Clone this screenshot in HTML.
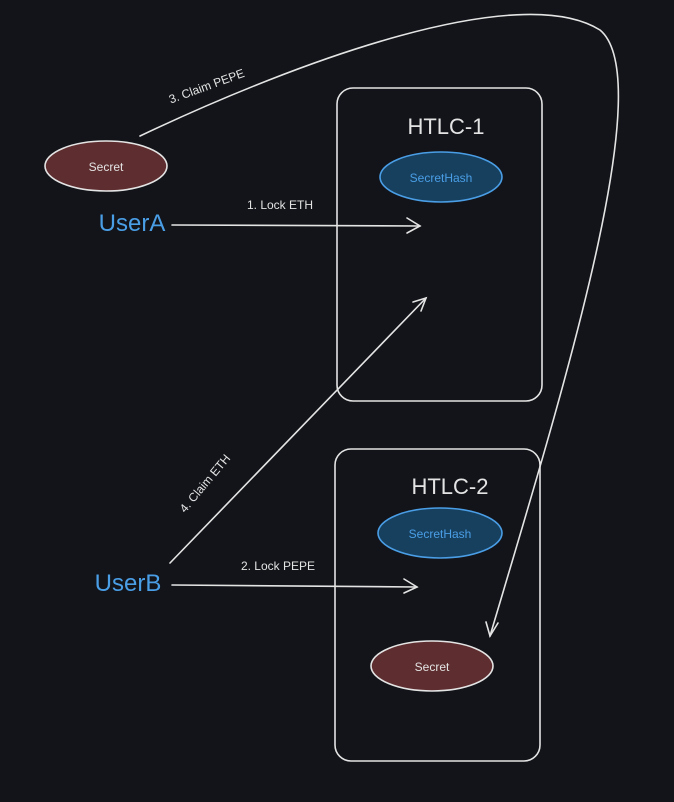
<!DOCTYPE html>
<html><head><style>
html,body{margin:0;padding:0;background:#121419;}
svg{display:block}
text{font-family:"Liberation Sans",sans-serif;}
</style></head><body>
<svg width="674" height="802" viewBox="0 0 674 802" xmlns="http://www.w3.org/2000/svg">
<rect width="674" height="802" fill="#121419"/>
<g fill="none" stroke="#e4e4e4" stroke-width="1.6" stroke-linecap="round">
<rect x="337" y="88" width="205" height="313" rx="16"/>
<rect x="335" y="449" width="205" height="312" rx="16"/>
<path d="M172 225 L420 226"/>
<path d="M407 218 L420 226 L407 233"/>
<path d="M172 585 L417 587"/>
<path d="M404 579 L417 587 L404 593"/>
<path d="M170 563 L426 298"/>
<path d="M413 302 L426 298 L421 311"/>
<path d="M140 136 C300 60 520 -20 600 30 C660 80 560 400 490 636"/>
<path d="M486 622 L490 636 L498 623"/>
</g>
<ellipse cx="106" cy="166" rx="61" ry="25" fill="#5e2d2f" stroke="#e4e4e4" stroke-width="1.6"/>
<ellipse cx="441" cy="177" rx="61" ry="25" fill="#17405f" stroke="#4a9ee6" stroke-width="1.6"/>
<ellipse cx="440" cy="533" rx="62" ry="25" fill="#17405f" stroke="#4a9ee6" stroke-width="1.6"/>
<ellipse cx="432" cy="666" rx="61" ry="25" fill="#5e2d2f" stroke="#e4e4e4" stroke-width="1.6"/>
<g fill="#e4e4e4" font-size="12" text-anchor="middle">
<text x="106" y="171">Secret</text>
<text x="432" y="671">Secret</text>
<text x="280" y="209">1. Lock ETH</text>
<text x="278" y="570">2. Lock PEPE</text>
<text x="446" y="134" font-size="22">HTLC-1</text>
<text x="450" y="494" font-size="22">HTLC-2</text>
<text x="208" y="90" transform="rotate(-20 208 90)">3. Claim PEPE</text>
<text x="208" y="486" transform="rotate(-50 208 486)">4. Claim ETH</text>
</g>
<g fill="#4a9ee6" text-anchor="middle">
<text x="441" y="182" font-size="12">SecretHash</text>
<text x="440" y="538" font-size="12">SecretHash</text>
<text x="132" y="231" font-size="24">UserA</text>
<text x="128" y="591" font-size="24">UserB</text>
</g>
</svg>
</body></html>
